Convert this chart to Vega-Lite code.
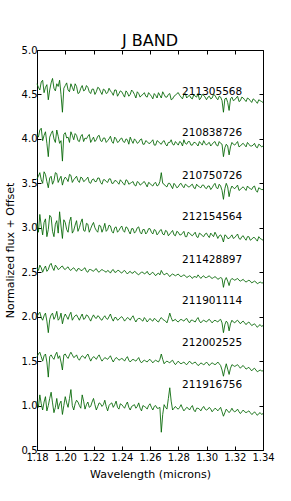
{
"$schema": "https://vega.github.io/schema/vega-lite/v6.json",
"width": 226, "height": 400,
"autosize": {"type": "none"},
"padding": {"left": 37, "top": 50, "right": 28, "bottom": 51},
"background": "#ffffff",
"config": {"view": {"stroke": "#000", "strokeWidth": 1},
 "font": "DejaVu Sans",
 "axis": {"domain": false, "grid": false, "tickColor": "#000", "labelColor": "#000", "titleColor": "#000", "labelFont": "DejaVu Sans", "titleFont": "DejaVu Sans", "labelFontSize": 10, "titleFontSize": 11, "titleFontWeight": "normal", "tickSize": -4, "labelPadding": 4, "labelOverlap": false, "labelFlush": false}},
"title": {"text": "J BAND", "fontSize": 16, "fontWeight": "normal", "font": "DejaVu Sans", "color": "#000", "offset": -4},
"resolve": {"axis": {"x": "independent", "y": "independent"}},
"datasets": {
"lab": [
{"w":1.304,"f":4.53,"s":"211305568"},
{"w":1.304,"f":4.07,"s":"210838726"},
{"w":1.304,"f":3.58,"s":"210750726"},
{"w":1.304,"f":3.12,"s":"212154564"},
{"w":1.304,"f":2.64,"s":"211428897"},
{"w":1.304,"f":2.18,"s":"211901114"},
{"w":1.304,"f":1.70,"s":"212002525"},
{"w":1.304,"f":1.23,"s":"211916756"}
],
"spec": [
{"w":1.18,"f":4.62,"s":1},{"w":1.182,"f":4.55,"s":1},{"w":1.184,"f":4.66,"s":1},{"w":1.186,"f":4.58,"s":1},{"w":1.188,"f":4.44,"s":1},{"w":1.19,"f":4.63,"s":1},{"w":1.192,"f":4.57,"s":1},{"w":1.194,"f":4.62,"s":1},{"w":1.196,"f":4.66,"s":1},{"w":1.198,"f":4.30,"s":1},
{"w":1.2,"f":4.60,"s":1},{"w":1.202,"f":4.55,"s":1},{"w":1.204,"f":4.62,"s":1},{"w":1.206,"f":4.54,"s":1},{"w":1.208,"f":4.59,"s":1},{"w":1.21,"f":4.52,"s":1},{"w":1.212,"f":4.60,"s":1},{"w":1.214,"f":4.55,"s":1},{"w":1.216,"f":4.58,"s":1},{"w":1.218,"f":4.51,"s":1},
{"w":1.22,"f":4.56,"s":1},{"w":1.222,"f":4.53,"s":1},{"w":1.224,"f":4.57,"s":1},{"w":1.226,"f":4.50,"s":1},{"w":1.228,"f":4.55,"s":1},{"w":1.23,"f":4.52,"s":1},{"w":1.232,"f":4.54,"s":1},{"w":1.234,"f":4.49,"s":1},{"w":1.236,"f":4.55,"s":1},{"w":1.238,"f":4.51,"s":1},
{"w":1.24,"f":4.53,"s":1},{"w":1.242,"f":4.47,"s":1},{"w":1.244,"f":4.52,"s":1},{"w":1.246,"f":4.50,"s":1},{"w":1.248,"f":4.53,"s":1},{"w":1.25,"f":4.46,"s":1},{"w":1.252,"f":4.51,"s":1},{"w":1.254,"f":4.49,"s":1},{"w":1.256,"f":4.52,"s":1},{"w":1.258,"f":4.47,"s":1},
{"w":1.26,"f":4.50,"s":1},{"w":1.262,"f":4.45,"s":1},{"w":1.264,"f":4.49,"s":1},{"w":1.266,"f":4.52,"s":1},{"w":1.268,"f":4.46,"s":1},{"w":1.27,"f":4.50,"s":1},{"w":1.272,"f":4.47,"s":1},{"w":1.274,"f":4.51,"s":1},{"w":1.276,"f":4.45,"s":1},{"w":1.278,"f":4.49,"s":1},
{"w":1.28,"f":4.52,"s":1},{"w":1.282,"f":4.47,"s":1},{"w":1.284,"f":4.50,"s":1},{"w":1.286,"f":4.46,"s":1},{"w":1.288,"f":4.49,"s":1},{"w":1.29,"f":4.45,"s":1},{"w":1.292,"f":4.48,"s":1},{"w":1.294,"f":4.51,"s":1},{"w":1.296,"f":4.46,"s":1},{"w":1.298,"f":4.49,"s":1},
{"w":1.3,"f":4.44,"s":1},{"w":1.302,"f":4.48,"s":1},{"w":1.304,"f":4.46,"s":1},{"w":1.306,"f":4.49,"s":1},{"w":1.308,"f":4.44,"s":1},{"w":1.31,"f":4.47,"s":1},{"w":1.312,"f":4.30,"s":1},{"w":1.314,"f":4.46,"s":1},{"w":1.316,"f":4.32,"s":1},{"w":1.318,"f":4.47,"s":1},
{"w":1.32,"f":4.44,"s":1},{"w":1.322,"f":4.48,"s":1},{"w":1.324,"f":4.43,"s":1},{"w":1.326,"f":4.46,"s":1},{"w":1.328,"f":4.42,"s":1},{"w":1.33,"f":4.45,"s":1},{"w":1.332,"f":4.41,"s":1},{"w":1.334,"f":4.44,"s":1},{"w":1.336,"f":4.40,"s":1},{"w":1.338,"f":4.43,"s":1},
{"w":1.34,"f":4.41,"s":1},
{"w":1.181,"f":4.58,"s":1},{"w":1.183,"f":4.64,"s":1},{"w":1.185,"f":4.52,"s":1},{"w":1.187,"f":4.61,"s":1},{"w":1.189,"f":4.55,"s":1},{"w":1.191,"f":4.68,"s":1},{"w":1.193,"f":4.54,"s":1},{"w":1.195,"f":4.59,"s":1},{"w":1.197,"f":4.50,"s":1},{"w":1.199,"f":4.57,"s":1},
{"w":1.201,"f":4.63,"s":1},{"w":1.203,"f":4.53,"s":1},{"w":1.205,"f":4.58,"s":1},{"w":1.207,"f":4.62,"s":1},{"w":1.209,"f":4.51,"s":1},{"w":1.211,"f":4.57,"s":1},{"w":1.213,"f":4.54,"s":1},{"w":1.215,"f":4.60,"s":1},{"w":1.217,"f":4.53,"s":1},{"w":1.219,"f":4.56,"s":1},
{"w":1.221,"f":4.50,"s":1},{"w":1.223,"f":4.58,"s":1},{"w":1.225,"f":4.53,"s":1},{"w":1.227,"f":4.56,"s":1},{"w":1.229,"f":4.51,"s":1},{"w":1.231,"f":4.57,"s":1},{"w":1.233,"f":4.52,"s":1},{"w":1.235,"f":4.55,"s":1},{"w":1.237,"f":4.48,"s":1},{"w":1.239,"f":4.54,"s":1},
{"w":1.241,"f":4.50,"s":1},{"w":1.243,"f":4.54,"s":1},{"w":1.245,"f":4.48,"s":1},{"w":1.247,"f":4.55,"s":1},{"w":1.249,"f":4.50,"s":1},{"w":1.251,"f":4.53,"s":1},{"w":1.253,"f":4.47,"s":1},{"w":1.255,"f":4.50,"s":1},{"w":1.257,"f":4.48,"s":1},{"w":1.259,"f":4.52,"s":1},
{"w":1.261,"f":4.48,"s":1},{"w":1.263,"f":4.51,"s":1},{"w":1.265,"f":4.46,"s":1},{"w":1.267,"f":4.49,"s":1},{"w":1.269,"f":4.53,"s":1},{"w":1.271,"f":4.47,"s":1},{"w":1.273,"f":4.50,"s":1},{"w":1.275,"f":4.44,"s":1},{"w":1.277,"f":4.48,"s":1},{"w":1.279,"f":4.51,"s":1},
{"w":1.281,"f":4.49,"s":1},{"w":1.283,"f":4.45,"s":1},{"w":1.285,"f":4.51,"s":1},{"w":1.287,"f":4.48,"s":1},{"w":1.289,"f":4.46,"s":1},{"w":1.291,"f":4.50,"s":1},{"w":1.293,"f":4.47,"s":1},{"w":1.295,"f":4.44,"s":1},{"w":1.297,"f":4.50,"s":1},{"w":1.299,"f":4.47,"s":1},
{"w":1.301,"f":4.47,"s":1},{"w":1.303,"f":4.45,"s":1},{"w":1.305,"f":4.50,"s":1},{"w":1.307,"f":4.46,"s":1},{"w":1.309,"f":4.48,"s":1},{"w":1.311,"f":4.43,"s":1},{"w":1.313,"f":4.45,"s":1},{"w":1.315,"f":4.41,"s":1},{"w":1.317,"f":4.45,"s":1},{"w":1.319,"f":4.43,"s":1},
{"w":1.321,"f":4.46,"s":1},{"w":1.323,"f":4.42,"s":1},{"w":1.325,"f":4.47,"s":1},{"w":1.327,"f":4.44,"s":1},{"w":1.329,"f":4.46,"s":1},{"w":1.331,"f":4.43,"s":1},{"w":1.333,"f":4.45,"s":1},{"w":1.335,"f":4.42,"s":1},{"w":1.337,"f":4.44,"s":1},{"w":1.339,"f":4.42,"s":1},

{"w":1.18,"f":4.05,"s":2},{"w":1.182,"f":4.10,"s":2},{"w":1.184,"f":3.98,"s":2},{"w":1.186,"f":4.08,"s":2},{"w":1.188,"f":3.80,"s":2},{"w":1.19,"f":4.06,"s":2},{"w":1.192,"f":4.00,"s":2},{"w":1.194,"f":4.10,"s":2},{"w":1.196,"f":3.95,"s":2},{"w":1.198,"f":3.75,"s":2},
{"w":1.2,"f":4.07,"s":2},{"w":1.202,"f":4.02,"s":2},{"w":1.204,"f":4.08,"s":2},{"w":1.206,"f":3.99,"s":2},{"w":1.208,"f":4.04,"s":2},{"w":1.21,"f":3.97,"s":2},{"w":1.212,"f":4.05,"s":2},{"w":1.214,"f":4.01,"s":2},{"w":1.216,"f":4.03,"s":2},{"w":1.218,"f":3.96,"s":2},
{"w":1.22,"f":4.02,"s":2},{"w":1.222,"f":3.99,"s":2},{"w":1.224,"f":4.04,"s":2},{"w":1.226,"f":3.97,"s":2},{"w":1.228,"f":4.01,"s":2},{"w":1.23,"f":3.98,"s":2},{"w":1.232,"f":4.03,"s":2},{"w":1.234,"f":3.95,"s":2},{"w":1.236,"f":4.00,"s":2},{"w":1.238,"f":3.97,"s":2},
{"w":1.24,"f":4.01,"s":2},{"w":1.242,"f":3.96,"s":2},{"w":1.244,"f":3.99,"s":2},{"w":1.246,"f":4.02,"s":2},{"w":1.248,"f":3.95,"s":2},{"w":1.25,"f":3.98,"s":2},{"w":1.252,"f":3.96,"s":2},{"w":1.254,"f":4.00,"s":2},{"w":1.256,"f":3.94,"s":2},{"w":1.258,"f":3.97,"s":2},
{"w":1.26,"f":3.95,"s":2},{"w":1.262,"f":3.99,"s":2},{"w":1.264,"f":3.93,"s":2},{"w":1.266,"f":3.97,"s":2},{"w":1.268,"f":3.94,"s":2},{"w":1.27,"f":3.98,"s":2},{"w":1.272,"f":3.92,"s":2},{"w":1.274,"f":3.96,"s":2},{"w":1.276,"f":3.94,"s":2},{"w":1.278,"f":3.97,"s":2},
{"w":1.28,"f":3.93,"s":2},{"w":1.282,"f":3.96,"s":2},{"w":1.284,"f":3.99,"s":2},{"w":1.286,"f":3.94,"s":2},{"w":1.288,"f":3.97,"s":2},{"w":1.29,"f":3.93,"s":2},{"w":1.292,"f":3.96,"s":2},{"w":1.294,"f":3.92,"s":2},{"w":1.296,"f":3.95,"s":2},{"w":1.298,"f":3.98,"s":2},
{"w":1.3,"f":3.93,"s":2},{"w":1.302,"f":3.96,"s":2},{"w":1.304,"f":3.94,"s":2},{"w":1.306,"f":3.97,"s":2},{"w":1.308,"f":3.92,"s":2},{"w":1.31,"f":3.95,"s":2},{"w":1.312,"f":3.80,"s":2},{"w":1.314,"f":3.94,"s":2},{"w":1.316,"f":3.82,"s":2},{"w":1.318,"f":3.96,"s":2},
{"w":1.32,"f":3.93,"s":2},{"w":1.322,"f":3.97,"s":2},{"w":1.324,"f":3.92,"s":2},{"w":1.326,"f":3.95,"s":2},{"w":1.328,"f":3.91,"s":2},{"w":1.33,"f":3.94,"s":2},{"w":1.332,"f":3.92,"s":2},{"w":1.334,"f":3.95,"s":2},{"w":1.336,"f":3.90,"s":2},{"w":1.338,"f":3.93,"s":2},
{"w":1.34,"f":3.92,"s":2},
{"w":1.181,"f":4.02,"s":2},{"w":1.183,"f":4.12,"s":2},{"w":1.185,"f":4.04,"s":2},{"w":1.187,"f":3.95,"s":2},{"w":1.189,"f":4.02,"s":2},{"w":1.191,"f":4.09,"s":2},{"w":1.193,"f":3.96,"s":2},{"w":1.195,"f":4.03,"s":2},{"w":1.197,"f":3.98,"s":2},{"w":1.199,"f":4.05,"s":2},
{"w":1.201,"f":4.01,"s":2},{"w":1.203,"f":3.96,"s":2},{"w":1.205,"f":4.04,"s":2},{"w":1.207,"f":4.06,"s":2},{"w":1.209,"f":3.98,"s":2},{"w":1.211,"f":4.03,"s":2},{"w":1.213,"f":3.97,"s":2},{"w":1.215,"f":4.00,"s":2},{"w":1.217,"f":4.05,"s":2},{"w":1.219,"f":3.99,"s":2},
{"w":1.221,"f":3.97,"s":2},{"w":1.223,"f":4.03,"s":2},{"w":1.225,"f":3.98,"s":2},{"w":1.227,"f":4.01,"s":2},{"w":1.229,"f":3.96,"s":2},{"w":1.231,"f":4.00,"s":2},{"w":1.233,"f":3.97,"s":2},{"w":1.235,"f":4.02,"s":2},{"w":1.237,"f":3.96,"s":2},{"w":1.239,"f":4.00,"s":2},
{"w":1.241,"f":3.97,"s":2},{"w":1.243,"f":4.00,"s":2},{"w":1.245,"f":3.94,"s":2},{"w":1.247,"f":3.98,"s":2},{"w":1.249,"f":4.00,"s":2},{"w":1.251,"f":3.95,"s":2},{"w":1.253,"f":3.99,"s":2},{"w":1.255,"f":3.94,"s":2},{"w":1.257,"f":3.98,"s":2},{"w":1.259,"f":3.95,"s":2},
{"w":1.261,"f":3.97,"s":2},{"w":1.263,"f":3.93,"s":2},{"w":1.265,"f":3.98,"s":2},{"w":1.267,"f":3.95,"s":2},{"w":1.269,"f":3.97,"s":2},{"w":1.271,"f":3.94,"s":2},{"w":1.273,"f":3.96,"s":2},{"w":1.275,"f":3.99,"s":2},{"w":1.277,"f":3.93,"s":2},{"w":1.279,"f":3.95,"s":2},
{"w":1.281,"f":3.97,"s":2},{"w":1.283,"f":3.92,"s":2},{"w":1.285,"f":3.95,"s":2},{"w":1.287,"f":3.97,"s":2},{"w":1.289,"f":3.93,"s":2},{"w":1.291,"f":3.96,"s":2},{"w":1.293,"f":3.94,"s":2},{"w":1.295,"f":3.97,"s":2},{"w":1.297,"f":3.93,"s":2},{"w":1.299,"f":3.95,"s":2},
{"w":1.301,"f":3.95,"s":2},{"w":1.303,"f":3.92,"s":2},{"w":1.305,"f":3.96,"s":2},{"w":1.307,"f":3.93,"s":2},{"w":1.309,"f":3.97,"s":2},{"w":1.311,"f":3.94,"s":2},{"w":1.313,"f":3.90,"s":2},{"w":1.315,"f":3.92,"s":2},{"w":1.317,"f":3.91,"s":2},{"w":1.319,"f":3.94,"s":2},
{"w":1.321,"f":3.95,"s":2},{"w":1.323,"f":3.91,"s":2},{"w":1.325,"f":3.94,"s":2},{"w":1.327,"f":3.93,"s":2},{"w":1.329,"f":3.96,"s":2},{"w":1.331,"f":3.92,"s":2},{"w":1.333,"f":3.93,"s":2},{"w":1.335,"f":3.91,"s":2},{"w":1.337,"f":3.94,"s":2},{"w":1.339,"f":3.91,"s":2},

{"w":1.18,"f":3.55,"s":3},{"w":1.182,"f":3.62,"s":3},{"w":1.184,"f":3.50,"s":3},{"w":1.186,"f":3.60,"s":3},{"w":1.188,"f":3.45,"s":3},{"w":1.19,"f":3.58,"s":3},{"w":1.192,"f":3.53,"s":3},{"w":1.194,"f":3.61,"s":3},{"w":1.196,"f":3.55,"s":3},{"w":1.198,"f":3.48,"s":3},
{"w":1.2,"f":3.57,"s":3},{"w":1.202,"f":3.52,"s":3},{"w":1.204,"f":3.59,"s":3},{"w":1.206,"f":3.54,"s":3},{"w":1.208,"f":3.58,"s":3},{"w":1.21,"f":3.51,"s":3},{"w":1.212,"f":3.56,"s":3},{"w":1.214,"f":3.53,"s":3},{"w":1.216,"f":3.57,"s":3},{"w":1.218,"f":3.50,"s":3},
{"w":1.22,"f":3.55,"s":3},{"w":1.222,"f":3.52,"s":3},{"w":1.224,"f":3.56,"s":3},{"w":1.226,"f":3.49,"s":3},{"w":1.228,"f":3.54,"s":3},{"w":1.23,"f":3.51,"s":3},{"w":1.232,"f":3.55,"s":3},{"w":1.234,"f":3.50,"s":3},{"w":1.236,"f":3.53,"s":3},{"w":1.238,"f":3.49,"s":3},
{"w":1.24,"f":3.52,"s":3},{"w":1.242,"f":3.48,"s":3},{"w":1.244,"f":3.53,"s":3},{"w":1.246,"f":3.50,"s":3},{"w":1.248,"f":3.52,"s":3},{"w":1.25,"f":3.47,"s":3},{"w":1.252,"f":3.51,"s":3},{"w":1.254,"f":3.49,"s":3},{"w":1.256,"f":3.52,"s":3},{"w":1.258,"f":3.46,"s":3},
{"w":1.26,"f":3.50,"s":3},{"w":1.262,"f":3.47,"s":3},{"w":1.264,"f":3.51,"s":3},{"w":1.266,"f":3.48,"s":3},{"w":1.268,"f":3.62,"s":3},{"w":1.27,"f":3.49,"s":3},{"w":1.272,"f":3.46,"s":3},{"w":1.274,"f":3.50,"s":3},{"w":1.276,"f":3.44,"s":3},{"w":1.278,"f":3.48,"s":3},
{"w":1.28,"f":3.46,"s":3},{"w":1.282,"f":3.50,"s":3},{"w":1.284,"f":3.45,"s":3},{"w":1.286,"f":3.48,"s":3},{"w":1.288,"f":3.46,"s":3},{"w":1.29,"f":3.49,"s":3},{"w":1.292,"f":3.44,"s":3},{"w":1.294,"f":3.47,"s":3},{"w":1.296,"f":3.45,"s":3},{"w":1.298,"f":3.48,"s":3},
{"w":1.3,"f":3.44,"s":3},{"w":1.302,"f":3.47,"s":3},{"w":1.304,"f":3.45,"s":3},{"w":1.306,"f":3.50,"s":3},{"w":1.308,"f":3.44,"s":3},{"w":1.31,"f":3.47,"s":3},{"w":1.312,"f":3.32,"s":3},{"w":1.314,"f":3.50,"s":3},{"w":1.316,"f":3.35,"s":3},{"w":1.318,"f":3.47,"s":3},
{"w":1.32,"f":3.44,"s":3},{"w":1.322,"f":3.48,"s":3},{"w":1.324,"f":3.43,"s":3},{"w":1.326,"f":3.46,"s":3},{"w":1.328,"f":3.42,"s":3},{"w":1.33,"f":3.45,"s":3},{"w":1.332,"f":3.43,"s":3},{"w":1.334,"f":3.47,"s":3},{"w":1.336,"f":3.40,"s":3},{"w":1.338,"f":3.44,"s":3},
{"w":1.34,"f":3.43,"s":3},
{"w":1.181,"f":3.58,"s":3},{"w":1.183,"f":3.54,"s":3},{"w":1.185,"f":3.63,"s":3},{"w":1.187,"f":3.52,"s":3},{"w":1.189,"f":3.56,"s":3},{"w":1.191,"f":3.49,"s":3},{"w":1.193,"f":3.62,"s":3},{"w":1.195,"f":3.51,"s":3},{"w":1.197,"f":3.58,"s":3},{"w":1.199,"f":3.54,"s":3},
{"w":1.201,"f":3.55,"s":3},{"w":1.203,"f":3.60,"s":3},{"w":1.205,"f":3.51,"s":3},{"w":1.207,"f":3.56,"s":3},{"w":1.209,"f":3.53,"s":3},{"w":1.211,"f":3.57,"s":3},{"w":1.213,"f":3.52,"s":3},{"w":1.215,"f":3.55,"s":3},{"w":1.217,"f":3.51,"s":3},{"w":1.219,"f":3.54,"s":3},
{"w":1.221,"f":3.52,"s":3},{"w":1.223,"f":3.56,"s":3},{"w":1.225,"f":3.51,"s":3},{"w":1.227,"f":3.54,"s":3},{"w":1.229,"f":3.52,"s":3},{"w":1.231,"f":3.55,"s":3},{"w":1.233,"f":3.50,"s":3},{"w":1.235,"f":3.53,"s":3},{"w":1.237,"f":3.51,"s":3},{"w":1.239,"f":3.54,"s":3},
{"w":1.241,"f":3.50,"s":3},{"w":1.243,"f":3.54,"s":3},{"w":1.245,"f":3.49,"s":3},{"w":1.247,"f":3.51,"s":3},{"w":1.249,"f":3.48,"s":3},{"w":1.251,"f":3.52,"s":3},{"w":1.253,"f":3.48,"s":3},{"w":1.255,"f":3.51,"s":3},{"w":1.257,"f":3.49,"s":3},{"w":1.259,"f":3.51,"s":3},
{"w":1.261,"f":3.48,"s":3},{"w":1.263,"f":3.50,"s":3},{"w":1.265,"f":3.47,"s":3},{"w":1.267,"f":3.52,"s":3},{"w":1.269,"f":3.50,"s":3},{"w":1.271,"f":3.47,"s":3},{"w":1.273,"f":3.50,"s":3},{"w":1.275,"f":3.47,"s":3},{"w":1.277,"f":3.50,"s":3},{"w":1.279,"f":3.45,"s":3},
{"w":1.281,"f":3.49,"s":3},{"w":1.283,"f":3.47,"s":3},{"w":1.285,"f":3.49,"s":3},{"w":1.287,"f":3.46,"s":3},{"w":1.289,"f":3.48,"s":3},{"w":1.291,"f":3.45,"s":3},{"w":1.293,"f":3.49,"s":3},{"w":1.295,"f":3.46,"s":3},{"w":1.297,"f":3.48,"s":3},{"w":1.299,"f":3.45,"s":3},
{"w":1.301,"f":3.47,"s":3},{"w":1.303,"f":3.43,"s":3},{"w":1.305,"f":3.48,"s":3},{"w":1.307,"f":3.45,"s":3},{"w":1.309,"f":3.49,"s":3},{"w":1.311,"f":3.42,"s":3},{"w":1.313,"f":3.44,"s":3},{"w":1.315,"f":3.46,"s":3},{"w":1.317,"f":3.43,"s":3},{"w":1.319,"f":3.45,"s":3},
{"w":1.321,"f":3.46,"s":3},{"w":1.323,"f":3.42,"s":3},{"w":1.325,"f":3.45,"s":3},{"w":1.327,"f":3.44,"s":3},{"w":1.329,"f":3.47,"s":3},{"w":1.331,"f":3.44,"s":3},{"w":1.333,"f":3.46,"s":3},{"w":1.335,"f":3.42,"s":3},{"w":1.337,"f":3.45,"s":3},{"w":1.339,"f":3.43,"s":3},

{"w":1.18,"f":3.05,"s":4},{"w":1.182,"f":3.15,"s":4},{"w":1.184,"f":2.92,"s":4},{"w":1.186,"f":3.10,"s":4},{"w":1.188,"f":2.98,"s":4},{"w":1.19,"f":3.12,"s":4},{"w":1.192,"f":2.90,"s":4},{"w":1.194,"f":3.08,"s":4},{"w":1.196,"f":3.18,"s":4},{"w":1.198,"f":2.88,"s":4},
{"w":1.2,"f":3.06,"s":4},{"w":1.202,"f":2.95,"s":4},{"w":1.204,"f":3.12,"s":4},{"w":1.206,"f":2.97,"s":4},{"w":1.208,"f":3.08,"s":4},{"w":1.21,"f":3.00,"s":4},{"w":1.212,"f":3.10,"s":4},{"w":1.214,"f":2.96,"s":4},{"w":1.216,"f":3.04,"s":4},{"w":1.218,"f":2.99,"s":4},
{"w":1.22,"f":3.06,"s":4},{"w":1.222,"f":2.97,"s":4},{"w":1.224,"f":3.03,"s":4},{"w":1.226,"f":2.95,"s":4},{"w":1.228,"f":3.05,"s":4},{"w":1.23,"f":2.98,"s":4},{"w":1.232,"f":3.02,"s":4},{"w":1.234,"f":2.94,"s":4},{"w":1.236,"f":3.01,"s":4},{"w":1.238,"f":2.97,"s":4},
{"w":1.24,"f":3.02,"s":4},{"w":1.242,"f":2.95,"s":4},{"w":1.244,"f":3.00,"s":4},{"w":1.246,"f":2.93,"s":4},{"w":1.248,"f":2.99,"s":4},{"w":1.25,"f":2.96,"s":4},{"w":1.252,"f":3.01,"s":4},{"w":1.254,"f":2.93,"s":4},{"w":1.256,"f":2.98,"s":4},{"w":1.258,"f":2.95,"s":4},
{"w":1.26,"f":2.99,"s":4},{"w":1.262,"f":2.93,"s":4},{"w":1.264,"f":2.97,"s":4},{"w":1.266,"f":2.94,"s":4},{"w":1.268,"f":2.98,"s":4},{"w":1.27,"f":2.92,"s":4},{"w":1.272,"f":2.96,"s":4},{"w":1.274,"f":2.93,"s":4},{"w":1.276,"f":2.97,"s":4},{"w":1.278,"f":2.91,"s":4},
{"w":1.28,"f":2.95,"s":4},{"w":1.282,"f":2.92,"s":4},{"w":1.284,"f":2.96,"s":4},{"w":1.286,"f":2.90,"s":4},{"w":1.288,"f":2.94,"s":4},{"w":1.29,"f":2.91,"s":4},{"w":1.292,"f":2.95,"s":4},{"w":1.294,"f":2.89,"s":4},{"w":1.296,"f":2.93,"s":4},{"w":1.298,"f":2.90,"s":4},
{"w":1.3,"f":2.94,"s":4},{"w":1.302,"f":2.89,"s":4},{"w":1.304,"f":2.92,"s":4},{"w":1.306,"f":2.95,"s":4},{"w":1.308,"f":2.88,"s":4},{"w":1.31,"f":2.92,"s":4},{"w":1.312,"f":2.84,"s":4},{"w":1.314,"f":2.91,"s":4},{"w":1.316,"f":2.88,"s":4},{"w":1.318,"f":2.92,"s":4},
{"w":1.32,"f":2.89,"s":4},{"w":1.322,"f":2.93,"s":4},{"w":1.324,"f":2.87,"s":4},{"w":1.326,"f":2.91,"s":4},{"w":1.328,"f":2.86,"s":4},{"w":1.33,"f":2.90,"s":4},{"w":1.332,"f":2.87,"s":4},{"w":1.334,"f":2.89,"s":4},{"w":1.336,"f":2.85,"s":4},{"w":1.338,"f":2.88,"s":4},
{"w":1.34,"f":2.86,"s":4},
{"w":1.181,"f":2.95,"s":4},{"w":1.183,"f":3.02,"s":4},{"w":1.185,"f":3.06,"s":4},{"w":1.187,"f":2.90,"s":4},{"w":1.189,"f":3.14,"s":4},{"w":1.191,"f":2.96,"s":4},{"w":1.193,"f":3.04,"s":4},{"w":1.195,"f":2.94,"s":4},{"w":1.197,"f":3.02,"s":4},{"w":1.199,"f":3.09,"s":4},
{"w":1.201,"f":2.98,"s":4},{"w":1.203,"f":3.07,"s":4},{"w":1.205,"f":2.94,"s":4},{"w":1.207,"f":3.03,"s":4},{"w":1.209,"f":2.96,"s":4},{"w":1.211,"f":3.06,"s":4},{"w":1.213,"f":2.97,"s":4},{"w":1.215,"f":3.05,"s":4},{"w":1.217,"f":2.95,"s":4},{"w":1.219,"f":3.03,"s":4},
{"w":1.221,"f":3.00,"s":4},{"w":1.223,"f":2.95,"s":4},{"w":1.225,"f":3.02,"s":4},{"w":1.227,"f":2.99,"s":4},{"w":1.229,"f":2.96,"s":4},{"w":1.231,"f":3.03,"s":4},{"w":1.233,"f":2.96,"s":4},{"w":1.235,"f":3.00,"s":4},{"w":1.237,"f":2.95,"s":4},{"w":1.239,"f":3.00,"s":4},
{"w":1.241,"f":2.97,"s":4},{"w":1.243,"f":3.01,"s":4},{"w":1.245,"f":2.96,"s":4},{"w":1.247,"f":2.99,"s":4},{"w":1.249,"f":2.94,"s":4},{"w":1.251,"f":3.00,"s":4},{"w":1.253,"f":2.95,"s":4},{"w":1.255,"f":2.98,"s":4},{"w":1.257,"f":2.93,"s":4},{"w":1.259,"f":2.99,"s":4},
{"w":1.261,"f":2.95,"s":4},{"w":1.263,"f":2.98,"s":4},{"w":1.265,"f":2.92,"s":4},{"w":1.267,"f":2.97,"s":4},{"w":1.269,"f":2.93,"s":4},{"w":1.271,"f":2.97,"s":4},{"w":1.273,"f":2.91,"s":4},{"w":1.275,"f":2.95,"s":4},{"w":1.277,"f":2.92,"s":4},{"w":1.279,"f":2.96,"s":4},
{"w":1.281,"f":2.92,"s":4},{"w":1.283,"f":2.94,"s":4},{"w":1.285,"f":2.90,"s":4},{"w":1.287,"f":2.95,"s":4},{"w":1.289,"f":2.92,"s":4},{"w":1.291,"f":2.93,"s":4},{"w":1.293,"f":2.90,"s":4},{"w":1.295,"f":2.94,"s":4},{"w":1.297,"f":2.91,"s":4},{"w":1.299,"f":2.93,"s":4},
{"w":1.301,"f":2.91,"s":4},{"w":1.303,"f":2.94,"s":4},{"w":1.305,"f":2.90,"s":4},{"w":1.307,"f":2.92,"s":4},{"w":1.309,"f":2.91,"s":4},{"w":1.311,"f":2.89,"s":4},{"w":1.313,"f":2.92,"s":4},{"w":1.315,"f":2.88,"s":4},{"w":1.317,"f":2.90,"s":4},{"w":1.319,"f":2.88,"s":4},
{"w":1.321,"f":2.91,"s":4},{"w":1.323,"f":2.88,"s":4},{"w":1.325,"f":2.90,"s":4},{"w":1.327,"f":2.88,"s":4},{"w":1.329,"f":2.90,"s":4},{"w":1.331,"f":2.86,"s":4},{"w":1.333,"f":2.89,"s":4},{"w":1.335,"f":2.87,"s":4},{"w":1.337,"f":2.90,"s":4},{"w":1.339,"f":2.87,"s":4},

{"w":1.18,"f":2.55,"s":5},{"w":1.182,"f":2.58,"s":5},{"w":1.184,"f":2.50,"s":5},{"w":1.186,"f":2.57,"s":5},{"w":1.188,"f":2.53,"s":5},{"w":1.19,"f":2.60,"s":5},{"w":1.192,"f":2.52,"s":5},{"w":1.194,"f":2.56,"s":5},{"w":1.196,"f":2.54,"s":5},{"w":1.198,"f":2.57,"s":5},
{"w":1.2,"f":2.53,"s":5},{"w":1.202,"f":2.56,"s":5},{"w":1.204,"f":2.52,"s":5},{"w":1.206,"f":2.55,"s":5},{"w":1.208,"f":2.51,"s":5},{"w":1.21,"f":2.54,"s":5},{"w":1.212,"f":2.52,"s":5},{"w":1.214,"f":2.55,"s":5},{"w":1.216,"f":2.50,"s":5},{"w":1.218,"f":2.53,"s":5},
{"w":1.22,"f":2.51,"s":5},{"w":1.222,"f":2.54,"s":5},{"w":1.224,"f":2.50,"s":5},{"w":1.226,"f":2.53,"s":5},{"w":1.228,"f":2.51,"s":5},{"w":1.23,"f":2.52,"s":5},{"w":1.232,"f":2.49,"s":5},{"w":1.234,"f":2.53,"s":5},{"w":1.236,"f":2.50,"s":5},{"w":1.238,"f":2.52,"s":5},
{"w":1.24,"f":2.49,"s":5},{"w":1.242,"f":2.52,"s":5},{"w":1.244,"f":2.48,"s":5},{"w":1.246,"f":2.51,"s":5},{"w":1.248,"f":2.49,"s":5},{"w":1.25,"f":2.50,"s":5},{"w":1.252,"f":2.47,"s":5},{"w":1.254,"f":2.50,"s":5},{"w":1.256,"f":2.48,"s":5},{"w":1.258,"f":2.51,"s":5},
{"w":1.26,"f":2.47,"s":5},{"w":1.262,"f":2.50,"s":5},{"w":1.264,"f":2.46,"s":5},{"w":1.266,"f":2.49,"s":5},{"w":1.268,"f":2.52,"s":5},{"w":1.27,"f":2.47,"s":5},{"w":1.272,"f":2.49,"s":5},{"w":1.274,"f":2.45,"s":5},{"w":1.276,"f":2.48,"s":5},{"w":1.278,"f":2.46,"s":5},
{"w":1.28,"f":2.48,"s":5},{"w":1.282,"f":2.45,"s":5},{"w":1.284,"f":2.47,"s":5},{"w":1.286,"f":2.44,"s":5},{"w":1.288,"f":2.46,"s":5},{"w":1.29,"f":2.43,"s":5},{"w":1.292,"f":2.45,"s":5},{"w":1.294,"f":2.47,"s":5},{"w":1.296,"f":2.43,"s":5},{"w":1.298,"f":2.46,"s":5},
{"w":1.3,"f":2.44,"s":5},{"w":1.302,"f":2.46,"s":5},{"w":1.304,"f":2.43,"s":5},{"w":1.306,"f":2.45,"s":5},{"w":1.308,"f":2.42,"s":5},{"w":1.31,"f":2.44,"s":5},{"w":1.312,"f":2.33,"s":5},{"w":1.314,"f":2.44,"s":5},{"w":1.316,"f":2.35,"s":5},{"w":1.318,"f":2.43,"s":5},
{"w":1.32,"f":2.41,"s":5},{"w":1.322,"f":2.43,"s":5},{"w":1.324,"f":2.40,"s":5},{"w":1.326,"f":2.42,"s":5},{"w":1.328,"f":2.39,"s":5},{"w":1.33,"f":2.41,"s":5},{"w":1.332,"f":2.38,"s":5},{"w":1.334,"f":2.40,"s":5},{"w":1.336,"f":2.37,"s":5},{"w":1.338,"f":2.39,"s":5},
{"w":1.34,"f":2.38,"s":5},
{"w":1.181,"f":2.52,"s":5},{"w":1.183,"f":2.55,"s":5},{"w":1.185,"f":2.54,"s":5},{"w":1.187,"f":2.51,"s":5},{"w":1.189,"f":2.58,"s":5},{"w":1.191,"f":2.55,"s":5},{"w":1.193,"f":2.58,"s":5},{"w":1.195,"f":2.53,"s":5},{"w":1.197,"f":2.56,"s":5},{"w":1.199,"f":2.54,"s":5},
{"w":1.201,"f":2.55,"s":5},{"w":1.203,"f":2.53,"s":5},{"w":1.205,"f":2.54,"s":5},{"w":1.207,"f":2.53,"s":5},{"w":1.209,"f":2.54,"s":5},{"w":1.211,"f":2.52,"s":5},{"w":1.213,"f":2.54,"s":5},{"w":1.215,"f":2.51,"s":5},{"w":1.217,"f":2.53,"s":5},{"w":1.219,"f":2.52,"s":5},
{"w":1.221,"f":2.53,"s":5},{"w":1.223,"f":2.51,"s":5},{"w":1.225,"f":2.52,"s":5},{"w":1.227,"f":2.52,"s":5},{"w":1.229,"f":2.50,"s":5},{"w":1.231,"f":2.51,"s":5},{"w":1.233,"f":2.52,"s":5},{"w":1.235,"f":2.50,"s":5},{"w":1.237,"f":2.52,"s":5},{"w":1.239,"f":2.50,"s":5},
{"w":1.241,"f":2.51,"s":5},{"w":1.243,"f":2.50,"s":5},{"w":1.245,"f":2.50,"s":5},{"w":1.247,"f":2.49,"s":5},{"w":1.249,"f":2.51,"s":5},{"w":1.251,"f":2.48,"s":5},{"w":1.253,"f":2.49,"s":5},{"w":1.255,"f":2.50,"s":5},{"w":1.257,"f":2.49,"s":5},{"w":1.259,"f":2.48,"s":5},
{"w":1.261,"f":2.49,"s":5},{"w":1.263,"f":2.48,"s":5},{"w":1.265,"f":2.48,"s":5},{"w":1.267,"f":2.47,"s":5},{"w":1.269,"f":2.49,"s":5},{"w":1.271,"f":2.48,"s":5},{"w":1.273,"f":2.47,"s":5},{"w":1.275,"f":2.47,"s":5},{"w":1.277,"f":2.47,"s":5},{"w":1.279,"f":2.47,"s":5},
{"w":1.281,"f":2.46,"s":5},{"w":1.283,"f":2.46,"s":5},{"w":1.285,"f":2.46,"s":5},{"w":1.287,"f":2.45,"s":5},{"w":1.289,"f":2.45,"s":5},{"w":1.291,"f":2.45,"s":5},{"w":1.293,"f":2.44,"s":5},{"w":1.295,"f":2.45,"s":5},{"w":1.297,"f":2.45,"s":5},{"w":1.299,"f":2.44,"s":5},
{"w":1.301,"f":2.45,"s":5},{"w":1.303,"f":2.44,"s":5},{"w":1.305,"f":2.44,"s":5},{"w":1.307,"f":2.44,"s":5},{"w":1.309,"f":2.43,"s":5},{"w":1.311,"f":2.43,"s":5},{"w":1.313,"f":2.41,"s":5},{"w":1.315,"f":2.40,"s":5},{"w":1.317,"f":2.41,"s":5},{"w":1.319,"f":2.42,"s":5},
{"w":1.321,"f":2.42,"s":5},{"w":1.323,"f":2.41,"s":5},{"w":1.325,"f":2.41,"s":5},{"w":1.327,"f":2.40,"s":5},{"w":1.329,"f":2.40,"s":5},{"w":1.331,"f":2.40,"s":5},{"w":1.333,"f":2.39,"s":5},{"w":1.335,"f":2.39,"s":5},{"w":1.337,"f":2.38,"s":5},{"w":1.339,"f":2.38,"s":5},

{"w":1.18,"f":2.00,"s":6},{"w":1.182,"f":2.05,"s":6},{"w":1.184,"f":1.96,"s":6},{"w":1.186,"f":2.04,"s":6},{"w":1.188,"f":1.82,"s":6},{"w":1.19,"f":2.02,"s":6},{"w":1.192,"f":1.97,"s":6},{"w":1.194,"f":2.06,"s":6},{"w":1.196,"f":1.98,"s":6},{"w":1.198,"f":1.92,"s":6},
{"w":1.2,"f":2.03,"s":6},{"w":1.202,"f":1.97,"s":6},{"w":1.204,"f":2.05,"s":6},{"w":1.206,"f":1.99,"s":6},{"w":1.208,"f":2.02,"s":6},{"w":1.21,"f":1.96,"s":6},{"w":1.212,"f":2.03,"s":6},{"w":1.214,"f":1.98,"s":6},{"w":1.216,"f":2.01,"s":6},{"w":1.218,"f":1.95,"s":6},
{"w":1.22,"f":2.02,"s":6},{"w":1.222,"f":1.98,"s":6},{"w":1.224,"f":2.00,"s":6},{"w":1.226,"f":1.96,"s":6},{"w":1.228,"f":2.01,"s":6},{"w":1.23,"f":1.97,"s":6},{"w":1.232,"f":2.03,"s":6},{"w":1.234,"f":1.95,"s":6},{"w":1.236,"f":1.99,"s":6},{"w":1.238,"f":1.97,"s":6},
{"w":1.24,"f":2.00,"s":6},{"w":1.242,"f":1.95,"s":6},{"w":1.244,"f":1.99,"s":6},{"w":1.246,"f":1.96,"s":6},{"w":1.248,"f":2.01,"s":6},{"w":1.25,"f":1.94,"s":6},{"w":1.252,"f":1.98,"s":6},{"w":1.254,"f":1.96,"s":6},{"w":1.256,"f":1.99,"s":6},{"w":1.258,"f":1.94,"s":6},
{"w":1.26,"f":1.98,"s":6},{"w":1.262,"f":1.95,"s":6},{"w":1.264,"f":1.97,"s":6},{"w":1.266,"f":1.94,"s":6},{"w":1.268,"f":1.99,"s":6},{"w":1.27,"f":1.96,"s":6},{"w":1.272,"f":1.93,"s":6},{"w":1.274,"f":2.04,"s":6},{"w":1.276,"f":1.95,"s":6},{"w":1.278,"f":1.97,"s":6},
{"w":1.28,"f":1.94,"s":6},{"w":1.282,"f":1.97,"s":6},{"w":1.284,"f":1.95,"s":6},{"w":1.286,"f":1.98,"s":6},{"w":1.288,"f":1.93,"s":6},{"w":1.29,"f":1.96,"s":6},{"w":1.292,"f":1.94,"s":6},{"w":1.294,"f":1.99,"s":6},{"w":1.296,"f":1.93,"s":6},{"w":1.298,"f":1.96,"s":6},
{"w":1.3,"f":1.94,"s":6},{"w":1.302,"f":1.97,"s":6},{"w":1.304,"f":1.93,"s":6},{"w":1.306,"f":1.96,"s":6},{"w":1.308,"f":1.94,"s":6},{"w":1.31,"f":1.97,"s":6},{"w":1.312,"f":1.82,"s":6},{"w":1.314,"f":1.95,"s":6},{"w":1.316,"f":1.84,"s":6},{"w":1.318,"f":1.96,"s":6},
{"w":1.32,"f":1.93,"s":6},{"w":1.322,"f":1.96,"s":6},{"w":1.324,"f":1.92,"s":6},{"w":1.326,"f":1.95,"s":6},{"w":1.328,"f":1.91,"s":6},{"w":1.33,"f":1.94,"s":6},{"w":1.332,"f":1.90,"s":6},{"w":1.334,"f":1.92,"s":6},{"w":1.336,"f":1.88,"s":6},{"w":1.338,"f":1.91,"s":6},
{"w":1.34,"f":1.90,"s":6},
{"w":1.181,"f":2.03,"s":6},{"w":1.183,"f":1.99,"s":6},{"w":1.185,"f":2.01,"s":6},{"w":1.187,"f":1.95,"s":6},{"w":1.189,"f":1.97,"s":6},{"w":1.191,"f":2.04,"s":6},{"w":1.193,"f":2.00,"s":6},{"w":1.195,"f":1.96,"s":6},{"w":1.197,"f":2.04,"s":6},{"w":1.199,"f":1.99,"s":6},
{"w":1.201,"f":2.00,"s":6},{"w":1.203,"f":2.02,"s":6},{"w":1.205,"f":1.96,"s":6},{"w":1.207,"f":2.01,"s":6},{"w":1.209,"f":1.99,"s":6},{"w":1.211,"f":2.00,"s":6},{"w":1.213,"f":1.97,"s":6},{"w":1.215,"f":2.02,"s":6},{"w":1.217,"f":1.98,"s":6},{"w":1.219,"f":1.99,"s":6},
{"w":1.221,"f":1.99,"s":6},{"w":1.223,"f":2.01,"s":6},{"w":1.225,"f":1.97,"s":6},{"w":1.227,"f":1.99,"s":6},{"w":1.229,"f":1.98,"s":6},{"w":1.231,"f":2.00,"s":6},{"w":1.233,"f":1.98,"s":6},{"w":1.235,"f":1.99,"s":6},{"w":1.237,"f":1.96,"s":6},{"w":1.239,"f":1.99,"s":6},
{"w":1.241,"f":1.98,"s":6},{"w":1.243,"f":1.97,"s":6},{"w":1.245,"f":1.98,"s":6},{"w":1.247,"f":1.99,"s":6},{"w":1.249,"f":1.97,"s":6},{"w":1.251,"f":1.97,"s":6},{"w":1.253,"f":1.98,"s":6},{"w":1.255,"f":1.95,"s":6},{"w":1.257,"f":1.97,"s":6},{"w":1.259,"f":1.96,"s":6},
{"w":1.261,"f":1.96,"s":6},{"w":1.263,"f":1.98,"s":6},{"w":1.265,"f":1.95,"s":6},{"w":1.267,"f":1.97,"s":6},{"w":1.269,"f":1.97,"s":6},{"w":1.271,"f":1.95,"s":6},{"w":1.273,"f":1.98,"s":6},{"w":1.275,"f":1.99,"s":6},{"w":1.277,"f":1.96,"s":6},{"w":1.279,"f":1.95,"s":6},
{"w":1.281,"f":1.96,"s":6},{"w":1.283,"f":1.96,"s":6},{"w":1.285,"f":1.97,"s":6},{"w":1.287,"f":1.95,"s":6},{"w":1.289,"f":1.96,"s":6},{"w":1.291,"f":1.95,"s":6},{"w":1.293,"f":1.97,"s":6},{"w":1.295,"f":1.95,"s":6},{"w":1.297,"f":1.95,"s":6},{"w":1.299,"f":1.95,"s":6},
{"w":1.301,"f":1.96,"s":6},{"w":1.303,"f":1.95,"s":6},{"w":1.305,"f":1.95,"s":6},{"w":1.307,"f":1.95,"s":6},{"w":1.309,"f":1.96,"s":6},{"w":1.311,"f":1.93,"s":6},{"w":1.313,"f":1.91,"s":6},{"w":1.315,"f":1.93,"s":6},{"w":1.317,"f":1.92,"s":6},{"w":1.319,"f":1.94,"s":6},
{"w":1.321,"f":1.95,"s":6},{"w":1.323,"f":1.94,"s":6},{"w":1.325,"f":1.94,"s":6},{"w":1.327,"f":1.93,"s":6},{"w":1.329,"f":1.93,"s":6},{"w":1.331,"f":1.92,"s":6},{"w":1.333,"f":1.91,"s":6},{"w":1.335,"f":1.90,"s":6},{"w":1.337,"f":1.90,"s":6},{"w":1.339,"f":1.89,"s":6},

{"w":1.18,"f":1.55,"s":7},{"w":1.182,"f":1.60,"s":7},{"w":1.184,"f":1.50,"s":7},{"w":1.186,"f":1.58,"s":7},{"w":1.188,"f":1.32,"s":7},{"w":1.19,"f":1.57,"s":7},{"w":1.192,"f":1.52,"s":7},{"w":1.194,"f":1.60,"s":7},{"w":1.196,"f":1.56,"s":7},{"w":1.198,"f":1.40,"s":7},
{"w":1.2,"f":1.58,"s":7},{"w":1.202,"f":1.53,"s":7},{"w":1.204,"f":1.60,"s":7},{"w":1.206,"f":1.54,"s":7},{"w":1.208,"f":1.57,"s":7},{"w":1.21,"f":1.51,"s":7},{"w":1.212,"f":1.56,"s":7},{"w":1.214,"f":1.53,"s":7},{"w":1.216,"f":1.58,"s":7},{"w":1.218,"f":1.50,"s":7},
{"w":1.22,"f":1.55,"s":7},{"w":1.222,"f":1.52,"s":7},{"w":1.224,"f":1.57,"s":7},{"w":1.226,"f":1.50,"s":7},{"w":1.228,"f":1.54,"s":7},{"w":1.23,"f":1.52,"s":7},{"w":1.232,"f":1.56,"s":7},{"w":1.234,"f":1.49,"s":7},{"w":1.236,"f":1.54,"s":7},{"w":1.238,"f":1.51,"s":7},
{"w":1.24,"f":1.53,"s":7},{"w":1.242,"f":1.50,"s":7},{"w":1.244,"f":1.55,"s":7},{"w":1.246,"f":1.49,"s":7},{"w":1.248,"f":1.52,"s":7},{"w":1.25,"f":1.50,"s":7},{"w":1.252,"f":1.54,"s":7},{"w":1.254,"f":1.48,"s":7},{"w":1.256,"f":1.51,"s":7},{"w":1.258,"f":1.49,"s":7},
{"w":1.26,"f":1.52,"s":7},{"w":1.262,"f":1.48,"s":7},{"w":1.264,"f":1.51,"s":7},{"w":1.266,"f":1.49,"s":7},{"w":1.268,"f":1.58,"s":7},{"w":1.27,"f":1.47,"s":7},{"w":1.272,"f":1.50,"s":7},{"w":1.274,"f":1.48,"s":7},{"w":1.276,"f":1.51,"s":7},{"w":1.278,"f":1.46,"s":7},
{"w":1.28,"f":1.50,"s":7},{"w":1.282,"f":1.47,"s":7},{"w":1.284,"f":1.49,"s":7},{"w":1.286,"f":1.46,"s":7},{"w":1.288,"f":1.50,"s":7},{"w":1.29,"f":1.47,"s":7},{"w":1.292,"f":1.49,"s":7},{"w":1.294,"f":1.45,"s":7},{"w":1.296,"f":1.48,"s":7},{"w":1.298,"f":1.46,"s":7},
{"w":1.3,"f":1.49,"s":7},{"w":1.302,"f":1.45,"s":7},{"w":1.304,"f":1.48,"s":7},{"w":1.306,"f":1.46,"s":7},{"w":1.308,"f":1.49,"s":7},{"w":1.31,"f":1.45,"s":7},{"w":1.312,"f":1.33,"s":7},{"w":1.314,"f":1.47,"s":7},{"w":1.316,"f":1.35,"s":7},{"w":1.318,"f":1.46,"s":7},
{"w":1.32,"f":1.44,"s":7},{"w":1.322,"f":1.46,"s":7},{"w":1.324,"f":1.42,"s":7},{"w":1.326,"f":1.45,"s":7},{"w":1.328,"f":1.41,"s":7},{"w":1.33,"f":1.43,"s":7},{"w":1.332,"f":1.39,"s":7},{"w":1.334,"f":1.42,"s":7},{"w":1.336,"f":1.38,"s":7},{"w":1.338,"f":1.40,"s":7},
{"w":1.34,"f":1.39,"s":7},
{"w":1.181,"f":1.58,"s":7},{"w":1.183,"f":1.55,"s":7},{"w":1.185,"f":1.56,"s":7},{"w":1.187,"f":1.49,"s":7},{"w":1.189,"f":1.55,"s":7},{"w":1.191,"f":1.54,"s":7},{"w":1.193,"f":1.57,"s":7},{"w":1.195,"f":1.53,"s":7},{"w":1.197,"f":1.49,"s":7},{"w":1.199,"f":1.57,"s":7},
{"w":1.201,"f":1.55,"s":7},{"w":1.203,"f":1.57,"s":7},{"w":1.205,"f":1.57,"s":7},{"w":1.207,"f":1.55,"s":7},{"w":1.209,"f":1.53,"s":7},{"w":1.211,"f":1.54,"s":7},{"w":1.213,"f":1.55,"s":7},{"w":1.215,"f":1.56,"s":7},{"w":1.217,"f":1.54,"s":7},{"w":1.219,"f":1.53,"s":7},
{"w":1.221,"f":1.54,"s":7},{"w":1.223,"f":1.55,"s":7},{"w":1.225,"f":1.53,"s":7},{"w":1.227,"f":1.52,"s":7},{"w":1.229,"f":1.53,"s":7},{"w":1.231,"f":1.54,"s":7},{"w":1.233,"f":1.52,"s":7},{"w":1.235,"f":1.52,"s":7},{"w":1.237,"f":1.53,"s":7},{"w":1.239,"f":1.52,"s":7},
{"w":1.241,"f":1.52,"s":7},{"w":1.243,"f":1.53,"s":7},{"w":1.245,"f":1.51,"s":7},{"w":1.247,"f":1.51,"s":7},{"w":1.249,"f":1.51,"s":7},{"w":1.251,"f":1.52,"s":7},{"w":1.253,"f":1.50,"s":7},{"w":1.255,"f":1.50,"s":7},{"w":1.257,"f":1.50,"s":7},{"w":1.259,"f":1.51,"s":7},
{"w":1.261,"f":1.50,"s":7},{"w":1.263,"f":1.50,"s":7},{"w":1.265,"f":1.50,"s":7},{"w":1.267,"f":1.52,"s":7},{"w":1.269,"f":1.52,"s":7},{"w":1.271,"f":1.49,"s":7},{"w":1.273,"f":1.49,"s":7},{"w":1.275,"f":1.50,"s":7},{"w":1.277,"f":1.48,"s":7},{"w":1.279,"f":1.48,"s":7},
{"w":1.281,"f":1.48,"s":7},{"w":1.283,"f":1.48,"s":7},{"w":1.285,"f":1.47,"s":7},{"w":1.287,"f":1.48,"s":7},{"w":1.289,"f":1.48,"s":7},{"w":1.291,"f":1.48,"s":7},{"w":1.293,"f":1.47,"s":7},{"w":1.295,"f":1.46,"s":7},{"w":1.297,"f":1.47,"s":7},{"w":1.299,"f":1.47,"s":7},
{"w":1.301,"f":1.47,"s":7},{"w":1.303,"f":1.47,"s":7},{"w":1.305,"f":1.47,"s":7},{"w":1.307,"f":1.47,"s":7},{"w":1.309,"f":1.47,"s":7},{"w":1.311,"f":1.40,"s":7},{"w":1.313,"f":1.41,"s":7},{"w":1.315,"f":1.41,"s":7},{"w":1.317,"f":1.42,"s":7},{"w":1.319,"f":1.45,"s":7},
{"w":1.321,"f":1.45,"s":7},{"w":1.323,"f":1.44,"s":7},{"w":1.325,"f":1.44,"s":7},{"w":1.327,"f":1.43,"s":7},{"w":1.329,"f":1.42,"s":7},{"w":1.331,"f":1.41,"s":7},{"w":1.333,"f":1.41,"s":7},{"w":1.335,"f":1.40,"s":7},{"w":1.337,"f":1.39,"s":7},{"w":1.339,"f":1.39,"s":7},

{"w":1.18,"f":1.05,"s":8},{"w":1.182,"f":1.12,"s":8},{"w":1.184,"f":0.95,"s":8},{"w":1.186,"f":1.10,"s":8},{"w":1.188,"f":1.00,"s":8},{"w":1.19,"f":1.15,"s":8},{"w":1.192,"f":0.92,"s":8},{"w":1.194,"f":1.08,"s":8},{"w":1.196,"f":1.02,"s":8},{"w":1.198,"f":0.90,"s":8},
{"w":1.2,"f":1.10,"s":8},{"w":1.202,"f":0.98,"s":8},{"w":1.204,"f":1.18,"s":8},{"w":1.206,"f":0.95,"s":8},{"w":1.208,"f":1.06,"s":8},{"w":1.21,"f":1.00,"s":8},{"w":1.212,"f":1.12,"s":8},{"w":1.214,"f":0.96,"s":8},{"w":1.216,"f":1.04,"s":8},{"w":1.218,"f":0.99,"s":8},
{"w":1.22,"f":1.08,"s":8},{"w":1.222,"f":0.95,"s":8},{"w":1.224,"f":1.03,"s":8},{"w":1.226,"f":0.99,"s":8},{"w":1.228,"f":1.06,"s":8},{"w":1.23,"f":0.94,"s":8},{"w":1.232,"f":1.02,"s":8},{"w":1.234,"f":0.98,"s":8},{"w":1.236,"f":1.05,"s":8},{"w":1.238,"f":0.96,"s":8},
{"w":1.24,"f":1.01,"s":8},{"w":1.242,"f":0.97,"s":8},{"w":1.244,"f":1.04,"s":8},{"w":1.246,"f":0.95,"s":8},{"w":1.248,"f":1.00,"s":8},{"w":1.25,"f":0.97,"s":8},{"w":1.252,"f":1.03,"s":8},{"w":1.254,"f":0.94,"s":8},{"w":1.256,"f":0.99,"s":8},{"w":1.258,"f":0.96,"s":8},
{"w":1.26,"f":1.02,"s":8},{"w":1.262,"f":0.95,"s":8},{"w":1.264,"f":1.00,"s":8},{"w":1.266,"f":0.97,"s":8},{"w":1.268,"f":0.70,"s":8},{"w":1.27,"f":1.01,"s":8},{"w":1.272,"f":0.96,"s":8},{"w":1.274,"f":1.20,"s":8},{"w":1.276,"f":0.95,"s":8},{"w":1.278,"f":0.99,"s":8},
{"w":1.28,"f":0.96,"s":8},{"w":1.282,"f":1.01,"s":8},{"w":1.284,"f":0.94,"s":8},{"w":1.286,"f":0.98,"s":8},{"w":1.288,"f":0.95,"s":8},{"w":1.29,"f":1.00,"s":8},{"w":1.292,"f":0.93,"s":8},{"w":1.294,"f":0.97,"s":8},{"w":1.296,"f":0.94,"s":8},{"w":1.298,"f":0.99,"s":8},
{"w":1.3,"f":0.95,"s":8},{"w":1.302,"f":0.98,"s":8},{"w":1.304,"f":0.93,"s":8},{"w":1.306,"f":0.97,"s":8},{"w":1.308,"f":0.94,"s":8},{"w":1.31,"f":0.98,"s":8},{"w":1.312,"f":0.88,"s":8},{"w":1.314,"f":0.96,"s":8},{"w":1.316,"f":0.92,"s":8},{"w":1.318,"f":0.97,"s":8},
{"w":1.32,"f":0.93,"s":8},{"w":1.322,"f":0.96,"s":8},{"w":1.324,"f":0.91,"s":8},{"w":1.326,"f":0.95,"s":8},{"w":1.328,"f":0.92,"s":8},{"w":1.33,"f":0.94,"s":8},{"w":1.332,"f":0.90,"s":8},{"w":1.334,"f":0.93,"s":8},{"w":1.336,"f":0.89,"s":8},{"w":1.338,"f":0.92,"s":8},
{"w":1.34,"f":0.91,"s":8},
{"w":1.181,"f":0.98,"s":8},{"w":1.183,"f":1.02,"s":8},{"w":1.185,"f":1.04,"s":8},{"w":1.187,"f":0.94,"s":8},{"w":1.189,"f":1.08,"s":8},{"w":1.191,"f":1.03,"s":8},{"w":1.193,"f":0.98,"s":8},{"w":1.195,"f":0.96,"s":8},{"w":1.197,"f":1.05,"s":8},{"w":1.199,"f":1.00,"s":8},
{"w":1.201,"f":1.03,"s":8},{"w":1.203,"f":1.08,"s":8},{"w":1.205,"f":1.00,"s":8},{"w":1.207,"f":1.02,"s":8},{"w":1.209,"f":1.04,"s":8},{"w":1.211,"f":0.97,"s":8},{"w":1.213,"f":1.05,"s":8},{"w":1.215,"f":1.01,"s":8},{"w":1.217,"f":0.98,"s":8},{"w":1.219,"f":1.04,"s":8},
{"w":1.221,"f":1.01,"s":8},{"w":1.223,"f":0.99,"s":8},{"w":1.225,"f":1.02,"s":8},{"w":1.227,"f":1.01,"s":8},{"w":1.229,"f":0.99,"s":8},{"w":1.231,"f":1.00,"s":8},{"w":1.233,"f":1.03,"s":8},{"w":1.235,"f":1.01,"s":8},{"w":1.237,"f":0.98,"s":8},{"w":1.239,"f":1.02,"s":8},
{"w":1.241,"f":0.99,"s":8},{"w":1.243,"f":1.01,"s":8},{"w":1.245,"f":0.98,"s":8},{"w":1.247,"f":0.99,"s":8},{"w":1.249,"f":1.01,"s":8},{"w":1.251,"f":0.99,"s":8},{"w":1.253,"f":0.97,"s":8},{"w":1.255,"f":1.00,"s":8},{"w":1.257,"f":0.98,"s":8},{"w":1.259,"f":1.00,"s":8},
{"w":1.261,"f":0.98,"s":8},{"w":1.263,"f":0.99,"s":8},{"w":1.265,"f":0.97,"s":8},{"w":1.267,"f":0.98,"s":8},{"w":1.269,"f":0.90,"s":8},{"w":1.271,"f":0.98,"s":8},{"w":1.273,"f":1.08,"s":8},{"w":1.275,"f":1.05,"s":8},{"w":1.277,"f":0.97,"s":8},{"w":1.279,"f":0.97,"s":8},
{"w":1.281,"f":0.98,"s":8},{"w":1.283,"f":0.97,"s":8},{"w":1.285,"f":0.96,"s":8},{"w":1.287,"f":0.97,"s":8},{"w":1.289,"f":0.98,"s":8},{"w":1.291,"f":0.95,"s":8},{"w":1.293,"f":0.97,"s":8},{"w":1.295,"f":0.96,"s":8},{"w":1.297,"f":0.97,"s":8},{"w":1.299,"f":0.96,"s":8},
{"w":1.301,"f":0.96,"s":8},{"w":1.303,"f":0.96,"s":8},{"w":1.305,"f":0.95,"s":8},{"w":1.307,"f":0.96,"s":8},{"w":1.309,"f":0.96,"s":8},{"w":1.311,"f":0.93,"s":8},{"w":1.313,"f":0.92,"s":8},{"w":1.315,"f":0.94,"s":8},{"w":1.317,"f":0.94,"s":8},{"w":1.319,"f":0.94,"s":8},
{"w":1.321,"f":0.94,"s":8},{"w":1.323,"f":0.93,"s":8},{"w":1.325,"f":0.93,"s":8},{"w":1.327,"f":0.93,"s":8},{"w":1.329,"f":0.93,"s":8},{"w":1.331,"f":0.92,"s":8},{"w":1.333,"f":0.91,"s":8},{"w":1.335,"f":0.91,"s":8},{"w":1.337,"f":0.91,"s":8},{"w":1.339,"f":0.90,"s":8}
]
},
"layer": [
{"data": {"name": "spec"},
 "mark": {"type": "line", "color": "#006400", "strokeWidth": 1, "opacity": 0.85},
 "encoding": {
  "x": {"field": "w", "type": "quantitative", "scale": {"domain": [1.18, 1.34], "nice": false, "zero": false},
        "axis": {"orient": "bottom", "values": [1.18,1.2,1.22,1.24,1.26,1.28,1.3,1.32,1.34], "format": ".2f", "title": "Wavelength (microns)", "labelPadding": 6, "titlePadding": 6}},
  "y": {"field": "f", "type": "quantitative", "scale": {"domain": [0.5, 5], "nice": false, "zero": false},
        "axis": {"orient": "left", "values": [0.5,1,1.5,2,2.5,3,3.5,4,4.5,5], "format": ".1f", "title": "Normalized flux + Offset", "titlePadding": 6}},
  "detail": {"field": "s", "type": "nominal"}
 }},
{"data": {"name": "lab"},
 "mark": {"type": "text", "fontSize": 10.5, "color": "#000", "font": "DejaVu Sans", "align": "center", "baseline": "middle"},
 "encoding": {
  "x": {"field": "w", "type": "quantitative", "axis": null},
  "y": {"field": "f", "type": "quantitative", "axis": null},
  "text": {"field": "s", "type": "nominal"}
 }},
{"data": {"name": "lab"},
 "mark": {"type": "point", "opacity": 0},
 "encoding": {
  "x": {"field": "w", "type": "quantitative", "axis": {"orient": "top", "labels": false, "title": null, "values": [1.18,1.2,1.22,1.24,1.26,1.28,1.3,1.32,1.34]}},
  "y": {"field": "f", "type": "quantitative", "axis": {"orient": "right", "labels": false, "title": null, "values": [0.5,1,1.5,2,2.5,3,3.5,4,4.5,5]}}
 }}
]
}
